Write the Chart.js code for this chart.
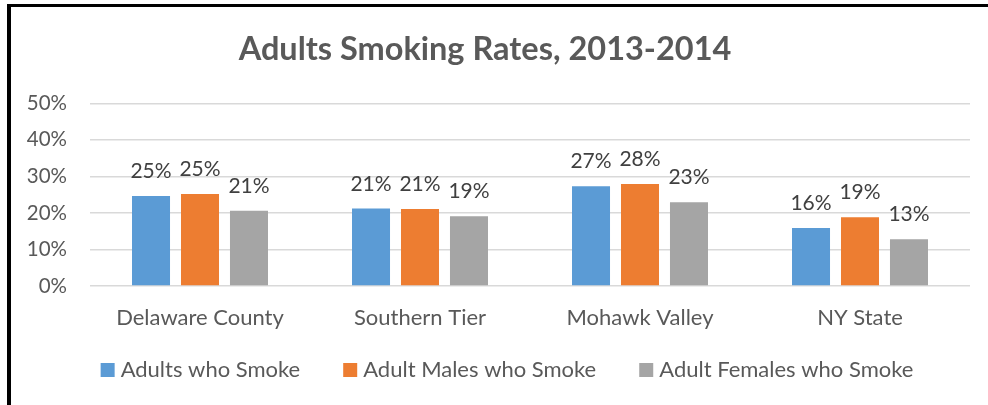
<!DOCTYPE html>
<html>
<head>
<meta charset="utf-8">
<script src="https://cdn.jsdelivr.net/npm/chart.js@4.4.1/dist/chart.umd.min.js"></script>
<style>
  html, body { margin: 0; padding: 0; background: #fff; }
  #wrap { position: relative; width: 988px; height: 405px; overflow: hidden; }
  #frame { position: absolute; left: 7px; top: 4px; width: 990px; height: 410px;
           border-left: 4px solid #000; border-top: 3px solid #000; box-sizing: border-box; }
  #c { position: absolute; left: 0; top: 0; }
</style>
</head>
<body>
<div id="wrap">
  <div id="frame"></div>
  <canvas id="c" width="988" height="405"></canvas>
</div>
<script>
const categories = ['Delaware County', 'Southern Tier', 'Mohawk Valley', 'NY State'];
const seriesNames = ['Adults who Smoke', 'Adult Males who Smoke', 'Adult Females who Smoke'];
const adultsWhoSmoke = [24.6, 21.2, 27.3, 15.9];
const adultMalesWhoSmoke = [25.2, 21.1, 27.9, 18.8];
const adultFemalesWhoSmoke = [20.6, 19.1, 22.9, 12.8];
const yTicks = [0, 10, 20, 30, 40, 50];
const chartTitle = 'Adults Smoking Rates, 2013-2014';

const colors = ['#5B9BD5', '#ED7D31', '#A5A5A5'];
const FONT = 'Lato';

const valueLabels = {
  id: 'valueLabels',
  afterDatasetsDraw(chart) {
    const ctx = chart.ctx;
    ctx.save();
    ctx.font = '21px ' + FONT;
    ctx.fillStyle = '#404040';
    ctx.textAlign = 'center';
    ctx.textBaseline = 'alphabetic';
    chart.data.datasets.forEach((ds, i) => {
      chart.getDatasetMeta(i).data.forEach((bar, j) => {
        ctx.fillText(Math.round(ds.data[j]) + '%', bar.x, bar.y - 18);
      });
    });
    ctx.restore();
  }
};

const customLegend = {
  id: 'customLegend',
  afterDraw(chart) {
    const ctx = chart.ctx;
    ctx.save();
    ctx.font = '22px ' + FONT;
    const box = 14, gap = 6, itemGap = 43;
    const items = chart.data.datasets.map(d => ({ text: d.label, color: d.backgroundColor, w: ctx.measureText(d.label).width }));
    const total = items.reduce((s, it) => s + box + gap + it.w, 0) + itemGap * (items.length - 1);
    let x = 507 - total / 2;
    const cy = 370;
    ctx.textBaseline = 'middle';
    ctx.textAlign = 'left';
    items.forEach(it => {
      ctx.fillStyle = it.color;
      ctx.fillRect(x, cy - 7, box, box);
      ctx.fillStyle = '#595959';
      ctx.fillText(it.text, x + box + gap, cy);
      x += box + gap + it.w + itemGap;
    });
    ctx.restore();
  }
};

Chart.defaults.font.family = FONT;

new Chart(document.getElementById('c'), {
  type: 'bar',
  data: {
    labels: categories,
    datasets: [
      { label: seriesNames[0], data: adultsWhoSmoke, backgroundColor: colors[0] },
      { label: seriesNames[1], data: adultMalesWhoSmoke, backgroundColor: colors[1] },
      { label: seriesNames[2], data: adultFemalesWhoSmoke, backgroundColor: colors[2] }
    ]
  },
  options: {
    responsive: false,
    animation: false,
    devicePixelRatio: 1,
    categoryPercentage: 0.668,
    barPercentage: 0.776,
    layout: { padding: { left: 0, right: 18, top: 0, bottom: 0 } },
    plugins: {
      legend: { display: false },
      tooltip: { enabled: false },
      title: {
        display: true,
        text: chartTitle,
        color: '#595959',
        font: { size: 32.5, weight: 'bold', family: FONT },
        padding: { top: 30, bottom: 34.3 }
      }
    },
    scales: {
      x: {
        grid: { display: false },
        border: { display: false },
        ticks: { color: '#595959', font: { size: 22 }, padding: 11 },
        afterFit(scale) { scale.height = 119; }
      },
      y: {
        min: 0,
        max: 50,
        afterBuildTicks(scale) { scale.ticks = yTicks.map(v => ({ value: v })); },
        grid: { color: '#D9D9D9', lineWidth: 1.5, drawTicks: false },
        border: { display: false },
        ticks: { color: '#595959', font: { size: 20.5 }, padding: 23, callback: v => v + '%' },
        afterFit(scale) { scale.width = 90; }
      }
    }
  },
  plugins: [valueLabels, customLegend]
});
</script>
</body>
</html>
